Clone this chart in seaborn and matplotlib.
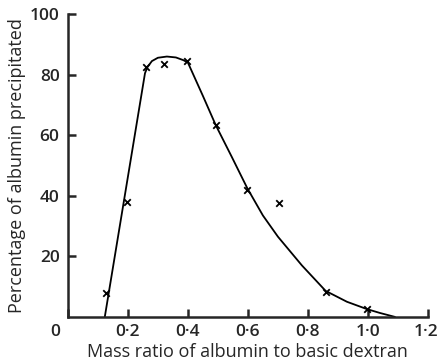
import numpy as np
import pandas as pd
import matplotlib
matplotlib.use("Agg")
import matplotlib.pyplot as plt
import matplotlib.transforms as mtransforms
import seaborn as sns

# measured points (crosses)
ratio = [0.126, 0.196, 0.262, 0.320, 0.398, 0.493, 0.598, 0.703, 0.859, 0.996]
precip = [7.8, 37.8, 82.6, 83.5, 84.6, 63.3, 41.9, 37.7, 8.3, 2.6]

# hand-drawn curve
curve_x = [0.123, 0.257, 0.265, 0.28, 0.30, 0.33, 0.36, 0.385, 0.40, 0.45, 0.493,
           0.546, 0.598, 0.65, 0.70, 0.78, 0.859, 0.93, 0.996, 1.04, 1.09]
curve_y = [0.0, 80.5, 82.5, 84.5, 85.6, 86.0, 85.7, 84.8, 84.0, 73.0, 63.3,
           52.9, 42.5, 33.5, 26.5, 17.0, 8.6, 5.0, 2.6, 1.3, 0.0]

xticks = [0, 0.2, 0.4, 0.6, 0.8, 1.0, 1.2]
xtick_labels = ["0", "0\u00b72", "0\u00b74", "0\u00b76", "0\u00b78", "1\u00b70", "1\u00b72"]
yticks = [20, 40, 60, 80, 100]

sns.set_style("ticks")
plt.rcParams["font.family"] = ["Open Sans", "DejaVu Sans"]

fig = plt.figure(figsize=(4.38, 3.63), dpi=100)
ax = fig.add_axes([0.155, 0.127, 0.822, 0.834])

sns.lineplot(x=curve_x, y=curve_y, ax=ax, color="black", linewidth=1.3, sort=False)
sns.scatterplot(x=ratio, y=precip, ax=ax, marker="x", color="black", s=22, linewidth=1.3)

ax.set_xlim(0, 1.2)
ax.set_ylim(0, 100)
ax.set_xticks(xticks)
ax.set_xticklabels(xtick_labels)
ax.set_yticks(yticks)
ax.tick_params(direction="in", length=6, width=1.8, labelsize=12.5)
ax.tick_params(axis="x", pad=5)
ax.tick_params(axis="y", pad=6)
for lab in ax.get_xticklabels() + ax.get_yticklabels():
    lab.set_fontweight("semibold")
# origin label sits a bit left of the corner
zero = ax.get_xticklabels()[0]
zero.set_transform(zero.get_transform() + mtransforms.ScaledTranslation(-0.13, 0, fig.dpi_scale_trans))
last = ax.get_xticklabels()[-1]
last.set_transform(last.get_transform() + mtransforms.ScaledTranslation(-0.02, 0, fig.dpi_scale_trans))

for s in ["top", "right"]:
    ax.spines[s].set_visible(False)
for s in ["left", "bottom"]:
    ax.spines[s].set_linewidth(1.8)

ax.set_xlabel("Mass ratio of albumin to basic dextran", fontsize=13, labelpad=2)
ax.set_ylabel("Percentage of albumin precipitated", fontsize=13, labelpad=3)

fig.savefig("out.png", dpi=100)
